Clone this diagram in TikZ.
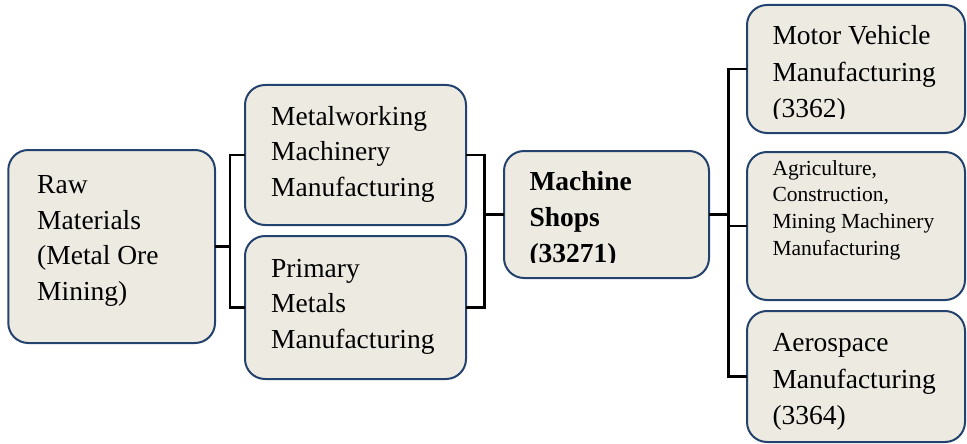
\documentclass[tikz,border=0pt]{standalone}
\usepackage{fontspec}
\setmainfont{Liberation Serif}
\definecolor{boxfill}{RGB}{237,235,225}
\definecolor{boxline}{RGB}{36,66,110}
\tikzset{
  box/.style={draw=boxline, fill=boxfill, line width=2pt, rounded corners=20pt,
              rectangle, inner sep=0pt, outer sep=0pt, anchor=north west},
  txt/.style={anchor=base west, inner sep=0pt, font=\fontsize{27.5}{33}\selectfont},
  txtb/.style={txt, font=\fontsize{27.5}{33}\selectfont\bfseries},
  txts/.style={anchor=base west, inner sep=0pt, font=\fontsize{21.5}{26}\selectfont},
  conn/.style={draw=black, line width=2.4pt}
}
\begin{document}
\begin{tikzpicture}[x=1pt, y=-1pt]
\useasboundingbox (0,0) rectangle (967,444);
% connectors
\coordinate (j1) at (229.7,246.5);
\coordinate (j2) at (484.3,214.5);
\coordinate (j3) at (728.3,214.5);
% boxes
\node[box, minimum width=206.7pt, minimum height=193pt] (raw) at (8.3,150) {};
\node[box, minimum width=221pt, minimum height=140pt] (metal) at (245,85) {};
\node[box, minimum width=221pt, minimum height=143pt] (primary) at (245,236) {};
\node[box, minimum width=205pt, minimum height=127pt] (machine) at (504,151) {};
\node[box, minimum width=218pt, minimum height=128pt] (motor) at (747,5) {};
\node[box, minimum width=218pt, minimum height=148pt] (agri) at (747,152) {};
\node[box, minimum width=218pt, minimum height=131pt] (aero) at (747,311) {};
\draw[conn] (raw.east) -- (j1);
\draw[conn] (metal.west) -| (j1) |- (primary.west);
\draw[conn] (metal.east) -| (j2) |- (primary.east);
\draw[conn] (j2) -- (machine.west);
\draw[conn] (machine.east) -- (j3);
\draw[conn] (motor.west) -| (j3) |- (aero.west);
\draw[conn] (j3) |- (agri.west);
% texts
\node[txt] (raw1) at (37,193.3) {Raw};
\node[txt] (raw2) at (37,229) {Materials};
\node[txt] (raw3) at (37,264.5) {(Metal Ore};
\node[txt] (raw4) at (37,300) {Mining)};
\node[txt] (met1) at (271,125) {Metalworking};
\node[txt] (met2) at (271,160.5) {Machinery};
\node[txt] (met3) at (271,196) {Manufacturing};
\node[txt] (pri1) at (271,277.3) {Primary};
\node[txt] (pri2) at (271,312.8) {Metals};
\node[txt] (pri3) at (271,348.3) {Manufacturing};
\begin{scope}
\clip (504,151) rectangle (709,262.7);
\node[txtb] (mac1) at (529.3,190) {Machine};
\node[txtb] (mac2) at (529.3,226) {Shops};
\node[txtb] (mac3) at (529.3,262.5) {(33271)};
\end{scope}
\begin{scope}
\clip (747,5) rectangle (965,118.3);
\node[txt] (mot1) at (772.3,45) {Motor Vehicle};
\node[txt] (mot2) at (772.3,81.7) {Manufacturing};
\node[txt] (mot3) at (772.3,117.8) {(3362)};
\end{scope}
\node[txts] (agr1) at (772.3,175) {Agriculture,};
\node[txts] (agr2) at (772.3,201.7) {Construction,};
\node[txts] (agr3) at (772.3,228.3) {Mining Machinery};
\node[txts] (agr4) at (772.3,255) {Manufacturing};
\node[txt] (aer1) at (772.3,351.7) {Aerospace};
\node[txt] (aer2) at (772.3,388) {Manufacturing};
\node[txt] (aer3) at (772.3,424) {(3364)};
\end{tikzpicture}
\end{document}
